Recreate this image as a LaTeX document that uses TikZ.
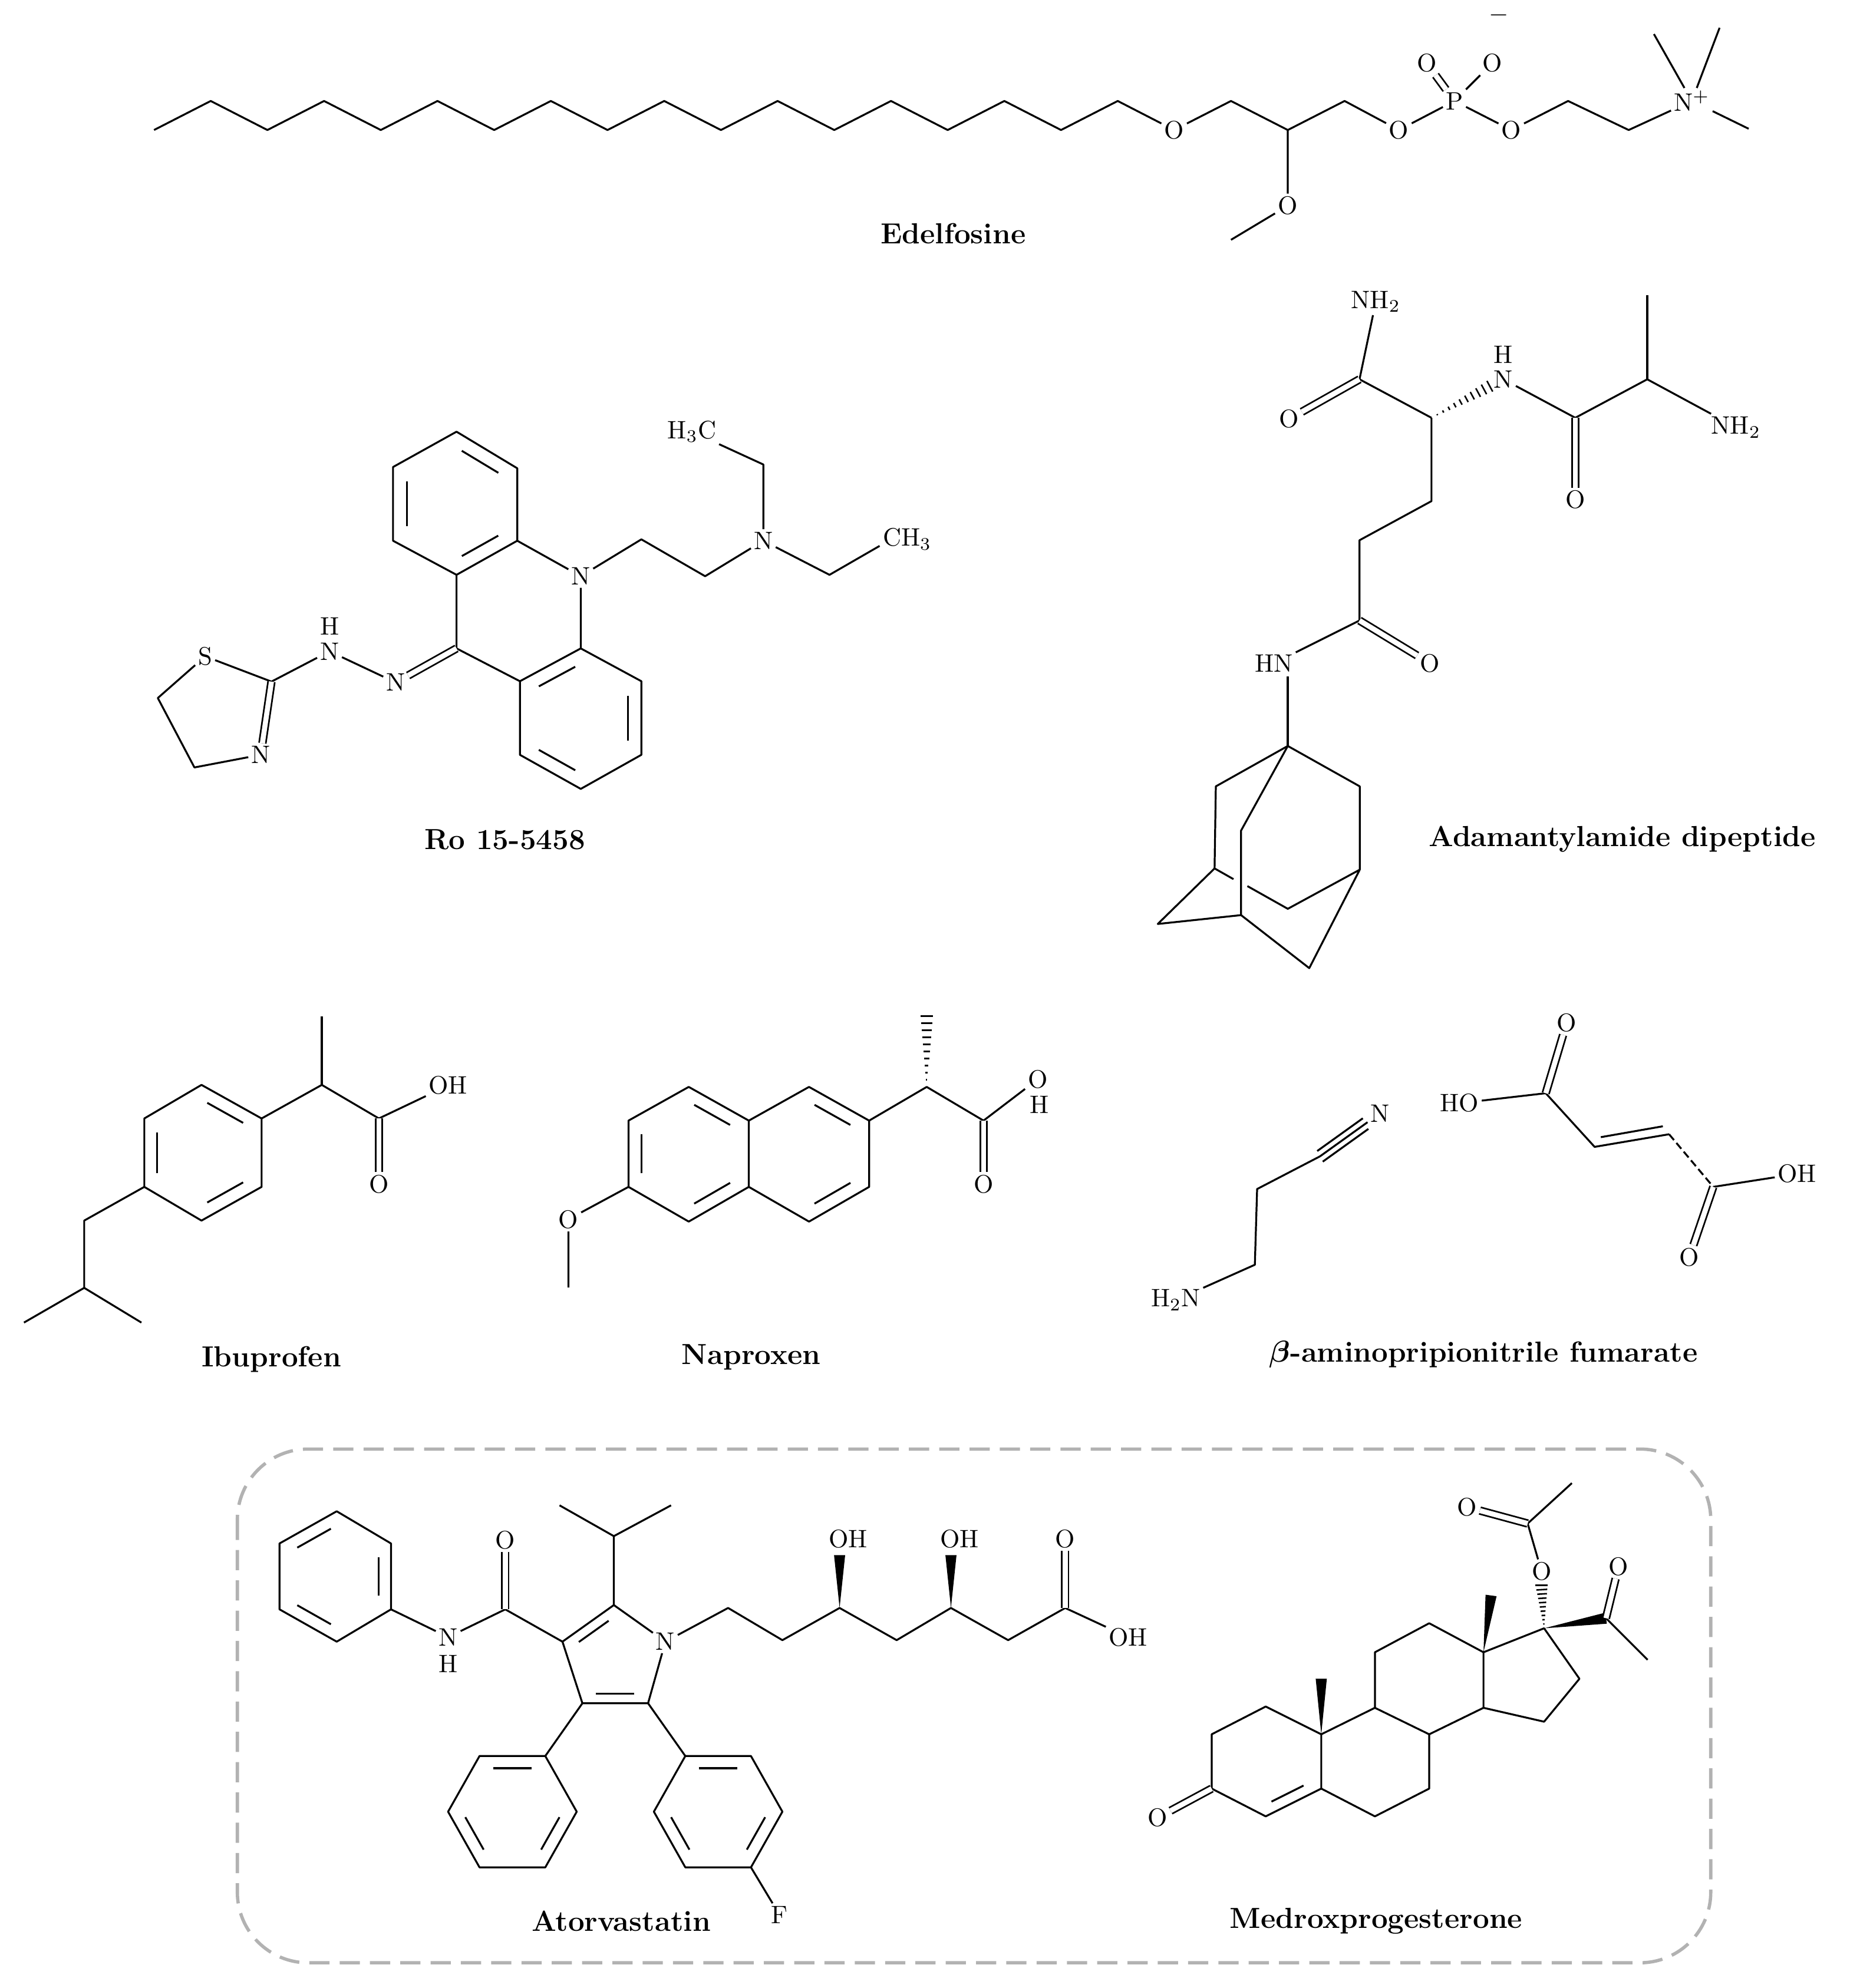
\documentclass[tikz,border=0pt]{standalone}
\usepackage{bm}
\usetikzlibrary{calc}
\newcommand\atomfont{\fontsize{10}{12}\selectfont}
\newcommand\inb[3]{\draw[shorten <=2.5pt,shorten >=2.5pt] ($(#1)!0.78!(#2)$) -- ($(#1)!0.78!(#3)$);}
\newcommand\swedge[2]{\fill ($(#1)$) -- ($(#2)!2.2pt!90:(#1)$) -- ($(#2)!2.2pt!-90:(#1)$) -- cycle;}
\newcommand\hwedge[2]{\foreach \t in {0.1,0.2,...,1.01}{\pgfmathsetmacro\dd{\t*2.4}\draw[line width=0.6pt] ($(#1)!\t!(#2)!\dd pt!90:(#2)$) -- ($(#1)!\t!(#2)!\dd pt!-90:(#2)$);}}
\newcommand\betachar{$\bm{\beta}$}
\begin{document}
\begin{tikzpicture}[x=0.5pt,y=-0.5pt,line width=0.75pt,line join=round,
  atom/.style={inner sep=0.8pt,font=\atomfont},
  dbl/.style={double,double distance=2pt,line width=0.65pt},
  title/.style={font=\fontsize{11.5}{13}\selectfont\bfseries}]
\useasboundingbox (0,0) rectangle (1465,1575);
% ================= Edelfosine
\node[atom] (eO1) at (930,103) {O};
\coordinate (e1) at (975,80); \coordinate (e2) at (1020,103); \coordinate (e3) at (1065,80);
\node[atom] (eO2) at (1108,103) {O};
\node[atom] (eP) at (1152,80) {P};
\node[atom] (eO3) at (1197,103) {O};
\coordinate (e4) at (1242,80); \coordinate (e5) at (1290,103);
\node[atom] (eN) at (1340,80) {N$^+$};
\coordinate (em1) at (1310,27); \coordinate (em2) at (1362,22); \coordinate (em3) at (1385,102);
\node[atom] (eO4) at (1130,50) {O};
\node[atom] (eO5) at (1182,50) {O};
\node[atom] (eminus) at (1187,12) {$-$};
\node[atom] (eO6) at (1020,163) {O};
\coordinate (eme) at (975,190);
\draw (122,103) \foreach \i in {1,...,17}{ -- ({122+44.9*\i},{mod(\i,2)==1 ? 80 : 103}) } -- (eO1);
\draw (eO1) -- (e1) -- (e2) -- (e3) -- (eO2) -- (eP) -- (eO3) -- (e4) -- (e5) -- (eN);
\draw (eN) -- (em1); \draw (eN) -- (em2); \draw (eN) -- (em3);
\draw[dbl] (eP) -- (eO4); \draw (eP) -- (eO5);
\draw (e2) -- (eO6) -- (eme);
\node[title] (tEdel) at (755,185) {Edelfosine};
% ================= Ro 15-5458
\coordinate (ta) at (361.6,342); \coordinate (tb) at (409.7,371); \coordinate (tc) at (409.7,428.4);
\coordinate (td) at (361.6,455.4); \coordinate (te) at (311.3,428.4); \coordinate (tf) at (311.3,370);
\coordinate (tcen) at (361,399);
\node[atom] (rN) at (460,456.5) {N};
\coordinate (r9) at (361.6,513.7); \coordinate (rg) at (411.8,539.7); \coordinate (rh) at (460,513.7);
\coordinate (ri) at (508,539.7); \coordinate (rj) at (508,598); \coordinate (rk) at (460,625); \coordinate (rl) at (411.8,598);
\coordinate (bcen) at (460,569);
\draw (ta) -- (tb) -- (tc) -- (td) -- (te) -- (tf) -- cycle;
\inb{tcen}{tf}{te} \inb{tcen}{ta}{tb} \inb{tcen}{tc}{td}
\draw (tc) -- (rN) -- (rh); \draw (td) -- (r9) -- (rg);
\draw (rg) -- (rh) -- (ri) -- (rj) -- (rk) -- (rl) -- cycle;
\inb{bcen}{rg}{rh} \inb{bcen}{ri}{rj} \inb{bcen}{rk}{rl}
\node[atom] (rN2) at (313.4,540.7) {N};
\node[atom] (rN3) at (261,516) {N};
\node[atom] (rH3) at (261,496) {H};
\coordinate (rc2) at (215,540);
\node[atom] (rS) at (162.5,520) {S};
\coordinate (rc4) at (125,553); \coordinate (rc5) at (154,608);
\node[atom] (rN4) at (206.5,598) {N};
\draw[dbl] (r9) -- (rN2);
\draw (rN2) -- (rN3) -- (rc2);
\draw (rc2) -- (rS) -- (rc4) -- (rc5) -- (rN4);
\draw[dbl] (rN4) -- (rc2);
\coordinate (rs1) at (508,427.3); \coordinate (rs2) at (558.5,456.5);
\node[atom] (rN5) at (604.6,428.4) {N};
\coordinate (rs3) at (604.6,368);
\node[atom] (rMe1) at (548,342) {H$_3$C};
\coordinate (rs4) at (657,455.4); \coordinate (rs5) at (696.7,432.5);
\node[atom,anchor=west] (rMe2) at (697,427) {CH$_3$};
\draw (rN) -- (rs1) -- (rs2) -- (rN5) -- (rs3) -- (rMe1);
\draw (rN5) -- (rs4) -- (rs5);
\node[title] (tRo) at (400,665) {Ro 15-5458};
% ================= Adamantylamide dipeptide
\node[atom] (aN1) at (1089.7,239) {NH$_2$};
\coordinate (aC1) at (1076.8,300.5);
\node[atom] (aO1) at (1021,332) {O};
\coordinate (aCa) at (1133.8,331);
\node[atom] (aN2) at (1190.8,300.5) {N};
\node[atom] (aH2) at (1190.8,281) {H};
\coordinate (aC2) at (1247.7,331);
\node[atom] (aO2) at (1247.7,396) {O};
\coordinate (aC3) at (1304.7,300.5); \coordinate (aMe) at (1304.7,234);
\node[atom] (aN3) at (1375,338.5) {NH$_2$};
\coordinate (ag1) at (1133.8,397); \coordinate (ag2) at (1076.8,428); \coordinate (ag3) at (1076.8,491.6);
\node[atom] (aN4) at (1009,525.5) {HN};
\node[atom] (aO3) at (1132.5,525.5) {O};
\draw (aN1) -- (aC1) -- (aCa);
\draw[dbl] (aC1) -- (aO1);
\hwedge{aCa}{1180,306}
\draw (aN2) -- (aC2) -- (aC3) -- (aN3); \draw (aC3) -- (aMe);
\draw[dbl] (aC2) -- (aO2);
\draw (aCa) -- (ag1) -- (ag2) -- (ag3) -- (aN4);
\draw[dbl] (ag3) -- (aO3);
\coordinate (adQ) at (1020,591); \coordinate (adL2) at (963,623); \coordinate (adL) at (962,688);
\coordinate (adR2) at (1077,623); \coordinate (adR) at (1077,689); \coordinate (adM2) at (983,658);
\coordinate (adM) at (983,725); \coordinate (adF) at (917,732); \coordinate (adB) at (1037,767);
\coordinate (adK) at (1020,720); \coordinate (adx1) at (977,696.5); \coordinate (adx2) at (988,702);
\draw (1020,536) -- (adQ);
\draw (adL) -- (adL2) -- (adQ) -- (adR2) -- (adR);
\draw (adQ) -- (adM2) -- (adM);
\draw (adL) -- (adF) -- (adM) -- (adB) -- (adR) -- (adK) -- (adx2);
\draw (adL) -- (adx1);
\node[title] (tAd) at (1285,665) {Adamantylamide dipeptide};
% ================= Ibuprofen
\coordinate (ia) at (159.6,859.5); \coordinate (ib) at (207.2,886.1); \coordinate (ic) at (207.2,940.3);
\coordinate (id) at (159.6,967); \coordinate (ie) at (114.3,940.3); \coordinate (if) at (114.3,886.1);
\coordinate (icen) at (160.5,913);
\draw (ia) -- (ib) -- (ic) -- (id) -- (ie) -- (if) -- cycle;
\inb{icen}{ia}{ib} \inb{icen}{ic}{id} \inb{icen}{ie}{if}
\coordinate (i1) at (254.9,859.5); \coordinate (iMe) at (254.9,805.3); \coordinate (i2) at (300.1,886.1);
\node[atom] (iOH) at (354.9,860) {OH};
\node[atom] (iO) at (300.1,938) {O};
\draw (ib) -- (i1) -- (i2) -- (iOH); \draw (i1) -- (iMe);
\draw[dbl] (i2) -- (iO);
\coordinate (i3) at (66.7,967); \coordinate (i4) at (66.7,1020.3); \coordinate (i5) at (19,1047.8); \coordinate (i6) at (112,1047.8);
\draw (ie) -- (i3) -- (i4) -- (i5); \draw (i4) -- (i6);
\node[title] (tIbu) at (215,1077) {Ibuprofen};
% ================= Naproxen
\coordinate (na) at (545.5,861.1); \coordinate (nb) at (593.1,887.8); \coordinate (nc) at (593.1,940.3);
\coordinate (nd) at (545.5,967.8); \coordinate (ne) at (497.8,940.3); \coordinate (nf) at (497.8,887.8);
\coordinate (ng) at (640.8,861.1); \coordinate (nh) at (688.4,887.8); \coordinate (ni) at (688.4,940.3); \coordinate (nj) at (640.8,967.8);
\coordinate (ncen1) at (545.5,914.5); \coordinate (ncen2) at (640.8,914.5);
\draw (na) -- (nb) -- (nc) -- (nd) -- (ne) -- (nf) -- cycle;
\draw (nb) -- (ng) -- (nh) -- (ni) -- (nj) -- (nc);
\inb{ncen1}{na}{nb} \inb{ncen1}{ne}{nf} \inb{ncen1}{nc}{nd}
\inb{ncen2}{ng}{nh} \inb{ncen2}{ni}{nj}
\node[atom] (nO) at (450.2,966) {O};
\coordinate (nMe) at (450.2,1020);
\draw (ne) -- (nO) -- (nMe);
\coordinate (n1) at (734,861.1); \coordinate (nMe2) at (734,805);
\coordinate (n2) at (779,887.8);
\node[atom] (nOH) at (822,855) {O};
\node[atom,inner sep=0pt] (nHH) at (823,875) {H};
\node[atom] (nO2) at (779,938) {O};
\draw (nh) -- (n1) -- (n2) -- (nOH);
\hwedge{n1}{nMe2}
\draw[dbl] (n2) -- (nO2);
\node[title] (tNap) at (595,1075) {Naproxen};
% ================= beta-aminopropionitrile fumarate
\node[atom] (bN1) at (931.2,1030) {H$_2$N};
\coordinate (b1) at (993.9,1002); \coordinate (b2) at (995.7,942); \coordinate (b3) at (1045.5,916.1);
\node[atom] (bN2) at (1093,882) {N};
\coordinate (bNc) at (1093,882);
\draw (bN1) -- (b1) -- (b2) -- (b3);
\draw (b3) -- (bN2);
\draw[shorten >=7pt] ($(b3)+(2.2,4.2)$) -- ($(bNc)+(2.2,4.2)$);
\draw[shorten >=7pt] ($(b3)+(-2.2,-4.2)$) -- ($(bNc)+(-2.2,-4.2)$);
\node[atom] (fHO) at (1156,874) {HO};
\coordinate (f1) at (1224.3,866.1);
\node[atom] (fO1) at (1240.9,810.3) {O};
\coordinate (f2) at (1263,908.6); \coordinate (f3) at (1322,898.6); \coordinate (f4) at (1357,940.3);
\node[atom] (fOH) at (1423.3,930) {OH};
\node[atom] (fO2) at (1338,996) {O};
\draw (fHO) -- (f1) -- (f2) -- (f3);
\draw[shorten <=2pt,shorten >=2pt] ($(f2)+(1,-7)$) -- ($(f3)+(-1,-7)$);
\draw[dash pattern=on 3pt off 1.5pt] (f3) -- (f4);
\draw (f4) -- (fOH);
\draw[dbl] (f1) -- (fO1);
\draw[dbl] (f4) -- (fO2);
\node[title] (tBap) at (1175,1073) {\betachar-aminopripionitrile fumarate};
% ================= dashed box
\draw[gray!60,line width=1.3pt,dash pattern=on 8pt off 4pt,rounded corners=28pt] (188,1148) rectangle (1355,1555);
% ================= Atorvastatin
\coordinate (p1) at (266.7,1197.3); \coordinate (p2) at (309.7,1222.8); \coordinate (p3) at (309.7,1275);
\coordinate (p4) at (266.7,1300.6); \coordinate (p5) at (221.4,1275); \coordinate (p6) at (221.4,1222.8);
\coordinate (pcen) at (265.5,1249);
\draw (p1) -- (p2) -- (p3) -- (p4) -- (p5) -- (p6) -- cycle;
\inb{pcen}{p6}{p1} \inb{pcen}{p2}{p3} \inb{pcen}{p4}{p5}
\node[atom] (zN) at (355,1297) {N};
\node[atom,inner sep=0pt] (zH) at (355,1318) {H};
\coordinate (zC) at (400.2,1275);
\node[atom] (zO) at (400.2,1220) {O};
\coordinate (z3) at (445.5,1300.6); \coordinate (z2) at (486.2,1271.6);
\node[atom] (zN1) at (527,1300.6) {N};
\coordinate (z5) at (513.3,1349.4); \coordinate (z4) at (461.3,1349.4);
\coordinate (zcen) at (486,1315);
\draw (p3) -- (zN) -- (zC) -- (z3);
\draw[dbl] (zC) -- (zO);
\draw (z3) -- (z2) -- (zN1) -- (z5) -- (z4) -- (z3);
\inb{zcen}{z3}{z2} \inb{zcen}{z5}{z4}
\coordinate (zi1) at (486.2,1217); \coordinate (zi2) at (443.2,1192.6); \coordinate (zi3) at (531.5,1192.6);
\draw (z2) -- (zi1) -- (zi2); \draw (zi1) -- (zi3);
\coordinate (zk1) at (576.7,1273.9); \coordinate (zk2) at (619.7,1299.4); \coordinate (zk3) at (665,1273.9);
\coordinate (zk4) at (710.2,1299.4); \coordinate (zk5) at (753.2,1273.9); \coordinate (zk6) at (798.5,1299.4);
\coordinate (zk7) at (843.7,1273.9);
\node[atom] (zOH1) at (671.8,1219) {OH};
\node[atom] (zOH2) at (760,1219) {OH};
\node[atom] (zO2) at (843.7,1219) {O};
\node[atom] (zOH3) at (893.5,1297) {OH};
\draw (zN1) -- (zk1) -- (zk2) -- (zk3) -- (zk4) -- (zk5) -- (zk6) -- (zk7) -- (zOH3);
\swedge{zk3}{665,1232} \swedge{zk5}{753.2,1232}
\draw[dbl] (zk7) -- (zO2);
\coordinate (q1) at (431.9,1391.2); \coordinate (q2) at (379.8,1391.2); \coordinate (q3) at (354.9,1435.3);
\coordinate (q4) at (379.8,1479.4); \coordinate (q5) at (431.9,1479.4); \coordinate (q6) at (456.8,1435.3);
\coordinate (qcen) at (405.8,1435.3);
\draw (q1) -- (q2) -- (q3) -- (q4) -- (q5) -- (q6) -- cycle;
\inb{qcen}{q1}{q2} \inb{qcen}{q3}{q4} \inb{qcen}{q5}{q6}
\draw (z4) -- (q1);
\coordinate (s1) at (542.8,1391.2); \coordinate (s2) at (594.8,1391.2); \coordinate (s3) at (619.7,1435.3);
\coordinate (s4) at (594.8,1479.4); \coordinate (s5) at (542.8,1479.4); \coordinate (s6) at (517.9,1435.3);
\coordinate (scen) at (568.8,1435.3);
\draw (s1) -- (s2) -- (s3) -- (s4) -- (s5) -- (s6) -- cycle;
\inb{scen}{s1}{s2} \inb{scen}{s3}{s4} \inb{scen}{s5}{s6}
\draw (z5) -- (s1);
\node[atom] (sF) at (617.4,1517) {F};
\draw (s4) -- (sF);
\node[title] (tAtor) at (492,1522) {Atorvastatin};
% ================= Medroxyprogesterone
\coordinate (m1) at (1002.5,1352); \coordinate (m2) at (959.7,1374); \coordinate (m3) at (959.7,1417);
\coordinate (m4) at (1002.5,1439); \coordinate (m5) at (1046.5,1417); \coordinate (m10) at (1046.5,1374);
\coordinate (m6) at (1089,1439); \coordinate (m7) at (1132,1417); \coordinate (m8) at (1132,1374);
\coordinate (m9) at (1089,1353); \coordinate (m11) at (1089,1309); \coordinate (m12) at (1132,1286);
\coordinate (m13) at (1175,1309); \coordinate (m14) at (1175,1353); \coordinate (m15) at (1223,1364);
\coordinate (m16) at (1251,1330); \coordinate (m17) at (1223,1290);
\coordinate (mAc) at (1003,1396);
\node[atom] (mO3) at (917,1440) {O};
\draw (m1) -- (m2) -- (m3) -- (m4) -- (m5) -- (m10) -- cycle;
\draw (m5) -- (m6) -- (m7) -- (m8) -- (m9) -- (m10);
\draw (m9) -- (m11) -- (m12) -- (m13) -- (m14) -- (m8);
\draw (m13) -- (m17) -- (m16) -- (m15) -- (m14);
\inb{mAc}{m4}{m5}
\draw[dbl] (m3) -- (mO3);
\swedge{m10}{1046.5,1330} \swedge{m13}{1181,1264}
\node[atom] (mO) at (1221,1245) {O};
\coordinate (mC) at (1210,1207);
\node[atom] (mO1) at (1162,1194) {O};
\coordinate (mMe) at (1245,1175);
\hwedge{m17}{1221,1256}
\draw (mO) -- (mC) -- (mMe);
\draw[dbl] (mC) -- (mO1);
\coordinate (mK) at (1272,1282);
\node[atom] (mO2) at (1282,1241) {O};
\coordinate (mMe2) at (1305,1315);
\swedge{m17}{mK}
\draw (mK) -- (mMe2);
\draw[dbl] (mK) -- (mO2);
\node[title] (tMed) at (1090,1522) {Medroxprogesterone};
\end{tikzpicture}
\end{document}
